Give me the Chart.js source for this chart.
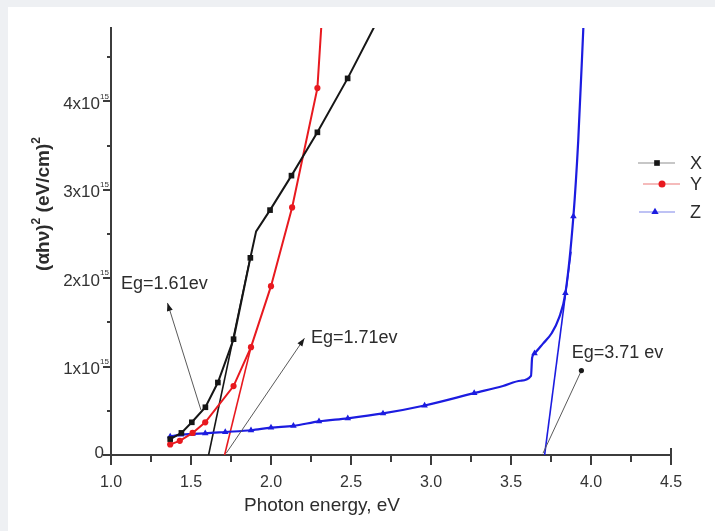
<!DOCTYPE html>
<html>
<head>
<meta charset="utf-8">
<title>Tauc plot</title>
<script src="https://cdn.jsdelivr.net/npm/chart.js@4.4.1/dist/chart.umd.min.js"></script>
<style>
  html, body { margin: 0; padding: 0; background: #eef0f3; }
  canvas { display: block; }
</style>
</head>
<body>
<canvas id="tauc" width="715" height="531"></canvas>
<script>
// photon energy in eV, (ahv)^2 in units of 1x10^15 (eV/cm)^2
var energyX = [1.37, 1.44, 1.505, 1.59, 1.668, 1.766, 1.871, 1.907, 1.994, 2.128, 2.29, 2.479, 2.75];
var alphaX  = [0.18, 0.25, 0.37, 0.54, 0.82, 1.31, 2.23, 2.53, 2.77, 3.16, 3.65, 4.26, 5.21];

var energyY = [1.37, 1.43, 1.51, 1.589, 1.766, 1.875, 2.0, 2.132, 2.29, 2.318];
var alphaY  = [0.12, 0.16, 0.25, 0.37, 0.78, 1.22, 1.91, 2.80, 4.15, 4.95];

var energyZ = [1.37, 1.437, 1.51, 1.589, 1.714, 1.875, 2.0, 2.14, 2.30, 2.48, 2.70, 2.96, 3.27,
               3.45, 3.56, 3.625, 3.632, 3.647, 3.70, 3.755, 3.80, 3.84, 3.89, 3.92, 3.955];
var alphaZ  = [0.21, 0.23, 0.24, 0.245, 0.26, 0.28, 0.31, 0.33, 0.38, 0.415, 0.47, 0.56, 0.70,
               0.78, 0.84, 0.895, 1.10, 1.15, 1.26, 1.38, 1.55, 1.83, 2.70, 3.55, 4.95];

// linear extrapolations down to the energy axis
var fitEnergyX = [1.61, 1.87];
var fitAlphaX  = [0, 2.23];
var fitEnergyY = [1.71, 1.875];
var fitAlphaY  = [0, 1.22];
var fitEnergyZ = [3.71, 3.875];
var fitAlphaZ  = [0, 2.3];

var seriesNames = ['X', 'Y', 'Z'];
var gapLabels = ['Eg=1.61ev', 'Eg=1.71ev', 'Eg=3.71 ev'];
var xTickLabels = ['1.0', '1.5', '2.0', '2.5', '3.0', '3.5', '4.0', '4.5'];
var yTickLabels = ['0', '1x10', '2x10', '3x10', '4x10'];
var yTickPower = '15';

var FONT = '"Liberation Sans", Arial, sans-serif';
var INK = '#2c2c2c';

function pts(xs, ys) {
    return xs.map(function (x, i) { return { x: x, y: ys[i] }; });
}

// only some of the points carry a marker, the rest just shape the line
function markAt(list, r) {
    return function (ctx) { return list.indexOf(ctx.dataIndex) >= 0 ? r : 0; };
}

function fitLine(xs, ys, color) {
    return {
        label: '',
        data: pts(xs, ys),
        showLine: true,
        borderColor: color,
        borderWidth: 1.6,
        pointRadius: 0
    };
}

function arrowHead(ctx, x0, y0, x1, y1) {
    var ang = Math.atan2(y1 - y0, x1 - x0), len = 8, w = 3;
    ctx.beginPath();
    ctx.moveTo(x1, y1);
    ctx.lineTo(x1 - len * Math.cos(ang) + w * Math.sin(ang), y1 - len * Math.sin(ang) - w * Math.cos(ang));
    ctx.lineTo(x1 - len * Math.cos(ang) - w * Math.sin(ang), y1 - len * Math.sin(ang) + w * Math.cos(ang));
    ctx.closePath();
    ctx.fill();
}

var decor = {
    id: 'taucDecor',
    beforeDraw: function (chart) {
        var ctx = chart.ctx;
        ctx.save();
        ctx.fillStyle = '#eef0f3';
        ctx.fillRect(0, 0, chart.width, chart.height);
        ctx.fillStyle = '#ffffff';
        ctx.fillRect(8, 7, chart.width - 8, chart.height - 7);
        ctx.restore();
    },
    afterDraw: function (chart, args, opts) {
        var ctx = chart.ctx, a = chart.chartArea;
        var xs = chart.scales.x, ys = chart.scales.y;
        ctx.save();

        // tick marks
        ctx.strokeStyle = '#3c3c3c';
        ctx.lineWidth = 2;
        ctx.beginPath();
        xs.ticks.forEach(function (t) {
            var px = Math.round(xs.getPixelForValue(t.value));
            var k = t.value * 2, major = Math.abs(k - Math.round(k)) < 1e-6;
            ctx.moveTo(px, a.bottom);
            ctx.lineTo(px, a.bottom + (major ? 10 : 7));
            if (t.value === xs.max) { ctx.moveTo(px, a.bottom - 7); ctx.lineTo(px, a.bottom); }
        });
        ys.ticks.forEach(function (t) {
            var k = t.value * 2;
            if (Math.abs(k - Math.round(k)) > 1e-6) return;
            var py = Math.round(ys.getPixelForValue(t.value));
            var major = Math.abs(t.value - Math.round(t.value)) < 1e-6;
            ctx.moveTo(a.left, py);
            ctx.lineTo(a.left - (major ? 8 : 4), py);
        });
        ctx.stroke();

        // y tick labels with the power written small
        ctx.fillStyle = '#333333';
        ctx.textBaseline = 'middle';
        ys.ticks.forEach(function (t) {
            if (Math.abs(t.value - Math.round(t.value)) > 1e-6) return;
            var n = Math.round(t.value), py = ys.getPixelForValue(t.value);
            ctx.textAlign = 'right';
            ctx.font = '17px ' + FONT;
            if (n === 0) {
                ctx.fillText(yTickLabels[0], a.left - 7, py - 2);
                return;
            }
            ctx.fillText(yTickLabels[n], a.left - 11, py + 3);
            ctx.textAlign = 'left';
            ctx.font = '8px ' + FONT;
            ctx.fillText(yTickPower, a.left - 11, py - 5);
        });

        // axis titles
        ctx.fillStyle = INK;
        ctx.textAlign = 'center';
        ctx.textBaseline = 'middle';
        ctx.font = '19px ' + FONT;
        ctx.fillText('Photon energy, eV', 322, 506);

        ctx.save();
        ctx.translate(42, 204);
        ctx.rotate(-Math.PI / 2);
        var big = 'bold 19px ' + FONT, small = 'bold 12px ' + FONT;
        var parts = [['(\u03b1h\u03bd)', big, 0], ['2', small, -9], [' (eV/cm)', big, 0], ['2', small, -9]];
        var total = 0;
        parts.forEach(function (p) { ctx.font = p[1]; total += ctx.measureText(p[0]).width; });
        var cx = -total / 2;
        ctx.textAlign = 'left';
        ctx.textBaseline = 'alphabetic';
        parts.forEach(function (p) {
            ctx.font = p[1];
            ctx.fillText(p[0], cx, 7 + p[2]);
            cx += ctx.measureText(p[0]).width;
        });
        ctx.restore();

        // band gap notes with their pointers
        opts.notes.forEach(function (n, i) {
            var x0 = xs.getPixelForValue(n.from[0]), y0 = ys.getPixelForValue(n.from[1]);
            var x1 = xs.getPixelForValue(n.to[0]), y1 = ys.getPixelForValue(n.to[1]);
            ctx.strokeStyle = '#5a5a5a';
            ctx.lineWidth = 1;
            ctx.beginPath();
            ctx.moveTo(x0, y0);
            ctx.lineTo(x1, y1);
            ctx.stroke();
            ctx.fillStyle = '#1a1a1a';
            if (n.dot) {
                ctx.beginPath();
                ctx.arc(x1, y1, 2.6, 0, Math.PI * 2);
                ctx.fill();
            } else {
                arrowHead(ctx, x0, y0, x1, y1);
            }
            ctx.fillStyle = INK;
            ctx.font = '18px ' + FONT;
            ctx.textAlign = 'left';
            ctx.textBaseline = 'middle';
            ctx.fillText(gapLabels[i], xs.getPixelForValue(n.at[0]), ys.getPixelForValue(n.at[1]));
        });

        // legend
        opts.legend.forEach(function (row, i) {
            var ds = chart.data.datasets[i];
            ctx.strokeStyle = row.line;
            ctx.lineWidth = 1.5;
            ctx.beginPath();
            ctx.moveTo(row.x0, row.y);
            ctx.lineTo(row.x1, row.y);
            ctx.stroke();
            ctx.fillStyle = ds.borderColor;
            ctx.strokeStyle = ds.borderColor;
            Chart.helpers.drawPoint(ctx, { pointStyle: ds.pointStyle, radius: row.r, rotation: 0, borderWidth: 0 }, row.m, row.y);
            ctx.fillStyle = INK;
            ctx.font = '18px ' + FONT;
            ctx.textAlign = 'left';
            ctx.textBaseline = 'middle';
            ctx.fillText(seriesNames[i], 690, row.y + 1);
        });

        ctx.restore();
    }
};

new Chart(document.getElementById('tauc').getContext('2d'), {
    type: 'scatter',
    data: {
        datasets: [
            {
                label: seriesNames[0],
                data: pts(energyX, alphaX),
                showLine: true,
                borderColor: '#161616',
                backgroundColor: '#161616',
                borderWidth: 2,
                pointStyle: 'rect',
                pointRadius: markAt([0, 1, 2, 3, 4, 5, 6, 8, 9, 10, 11], 4),
                pointBorderWidth: 0
            },
            {
                label: seriesNames[1],
                data: pts(energyY, alphaY),
                showLine: true,
                borderColor: '#e8191f',
                backgroundColor: '#e8191f',
                borderWidth: 2,
                pointStyle: 'circle',
                pointRadius: markAt([0, 1, 2, 3, 4, 5, 6, 7, 8], 3.1),
                pointBorderWidth: 0
            },
            {
                label: seriesNames[2],
                data: pts(energyZ, alphaZ),
                showLine: true,
                borderColor: '#1c1ce0',
                backgroundColor: '#1c1ce0',
                borderWidth: 2.2,
                cubicInterpolationMode: 'monotone',
                pointStyle: 'triangle',
                pointRadius: markAt([0, 1, 2, 3, 4, 5, 6, 7, 8, 9, 10, 11, 12, 17, 21, 22], 3.8),
                pointBorderWidth: 0
            },
            fitLine(fitEnergyX, fitAlphaX, '#161616'),
            fitLine(fitEnergyY, fitAlphaY, '#e8191f'),
            fitLine(fitEnergyZ, fitAlphaZ, '#1c1ce0')
        ]
    },
    options: {
        responsive: false,
        animation: false,
        events: [],
        layout: { padding: { left: 0, top: 28, right: 44, bottom: 0 } },
        scales: {
            x: {
                type: 'linear',
                min: 1,
                max: 4.5,
                afterFit: function (s) { s.height = 76; },
                border: { display: true, color: '#3c3c3c', width: 2 },
                grid: { display: true, drawOnChartArea: false, drawTicks: true, tickLength: 8, color: 'rgba(0,0,0,0)' },
                ticks: {
                    stepSize: 0.25,
                    autoSkip: false,
                    maxRotation: 0,
                    padding: 10,
                    color: '#333333',
                    font: { family: FONT, size: 16 },
                    callback: function (v) {
                        var k = (v - 1) / 0.5;
                        return Math.abs(k - Math.round(k)) < 1e-6 ? xTickLabels[Math.round(k)] : '';
                    }
                }
            },
            y: {
                type: 'linear',
                min: 0,
                max: 4.83,
                afterFit: function (s) { s.width = 111; },
                border: { display: true, color: '#3c3c3c', width: 2 },
                grid: { display: false },
                ticks: { stepSize: 0.5, display: false }
            }
        },
        plugins: {
            legend: { display: false },
            tooltip: { enabled: false },
            taucDecor: {
                notes: [
                    { at: [1.063, 1.93], from: [1.562, 0.51], to: [1.353, 1.72] },
                    { at: [2.25, 1.325], from: [1.72, 0.02], to: [2.209, 1.32] },
                    { at: [3.88, 1.155], from: [3.70, 0.02], to: [3.94, 0.955], dot: true }
                ],
                legend: [
                    { y: 163, x0: 638, x1: 675, m: 657, r: 4, line: '#b4b4b4' },
                    { y: 184, x0: 643, x1: 680, m: 662, r: 3.5, line: '#f2a4a4' },
                    { y: 212, x0: 639, x1: 675, m: 655, r: 4.2, line: '#a8aef0' }
                ]
            }
        }
    },
    plugins: [decor]
});
</script>
</body>
</html>
